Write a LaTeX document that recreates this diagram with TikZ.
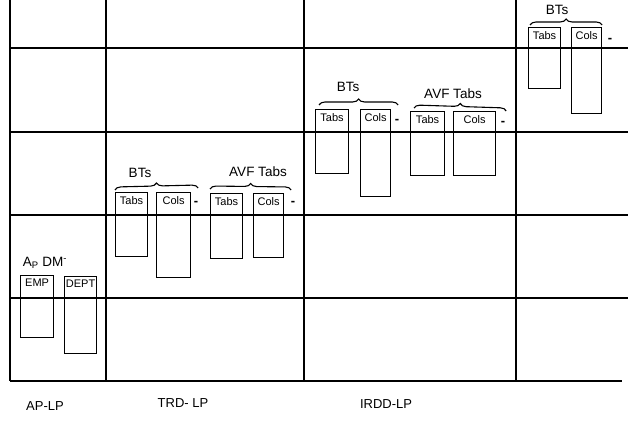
\documentclass[tikz,border=0pt]{standalone}
\usepackage{fontspec}
\setmainfont{Liberation Sans}
\usetikzlibrary{positioning, decorations.pathreplacing}

\begin{document}
\begin{tikzpicture}[
  x=1pt, y=-1pt,
  grid/.style  = {line width=1.6pt},
  tbl/.style   = {draw, line width=1.2pt, anchor=north west, inner sep=0pt,
                  minimum width=32pt},
  tname/.style = {anchor=north, inner sep=4pt, font=\fontsize{11}{13}\selectfont},
  brc/.style   = {decorate, decoration={brace, amplitude=6pt}, line width=1.1pt},
  head/.style  = {font=\fontsize{13.5}{15}\selectfont, inner sep=1pt},
  more/.style  = {font=\bfseries\fontsize{13}{14}\selectfont, inner sep=0pt},
  lp/.style    = {font=\fontsize{13}{15}\selectfont, inner sep=1pt}
]
\useasboundingbox (0,0) rectangle (628,427);

%% -- grid -------------------------------------------------------------------
\foreach \y in {48,132,215,298}
  \draw[grid] (10,\y) -- (628,\y);
\draw[grid] (10,381) -- (622,381);
\foreach \x in {10,106,304,516}
  \draw[grid] (\x,0) -- (\x,381);

%% -- AP-LP ------------------------------------------------------------------
\node[head] (apdm) at (45,263) {A\textsubscript{P} DM\textsuperscript{-}};
\node[tbl, minimum width=33pt, minimum height=62pt] (emp)  at (20,275) {};
\node[tname] (empL)  at (emp.north)  {EMP};
\node[tbl, minimum width=32pt, minimum height=77pt] (dept) at (64,276) {};
\node[tname, inner xsep=0pt] (deptL) at (dept.north) {DEPT};

%% -- TRD-LP -----------------------------------------------------------------
\node[tbl, minimum height=64pt] (trdTabs) at (115,192) {};
\node[tname] at (trdTabs.north) {Tabs};
\node[tbl, minimum width=34pt, minimum height=85pt] (trdCols) at (156,192) {};
\node[tname] at (trdCols.north) {Cols};
\node[more] (trdMore) at (196,203) {-};
\node[tbl, minimum height=65pt] (trdAvTabs) at (210,193) {};
\node[tname] at (trdAvTabs.north) {Tabs};
\node[tbl, minimum width=30pt, minimum height=64pt] (trdAvCols) at (253,193) {};
\node[tname] at (trdAvCols.north) {Cols};
\node[more] (trdAvMore) at (293,203) {-};

\draw[brc] ([yshift=2pt]trdTabs.north west) -- ([xshift=7pt,yshift=4pt]trdCols.north east);
\draw[brc] ([yshift=4pt]trdAvTabs.north west) -- ([xshift=7pt,yshift=3pt]trdAvCols.north east);
\node[head] (trdBT) at (140,173) {BTs};
\node[head] (trdAV) at (258,172) {AVF Tabs};

%% -- IRDD-LP ----------------------------------------------------------------
\node[tbl, minimum width=33pt, minimum height=64pt] (irTabs) at (315,109) {};
\node[tname] at (irTabs.north) {Tabs};
\node[tbl, minimum width=30pt, minimum height=87pt] (irCols) at (360,109) {};
\node[tname] at (irCols.north) {Cols};
\node[more] (irMore) at (397,121) {-};
\node[tbl, minimum width=34pt, minimum height=64pt] (irAvTabs) at (410,111) {};
\node[tname] at (irAvTabs.north) {Tabs};
\node[tbl, minimum width=42pt, minimum height=64pt] (irAvCols) at (453,111) {};
\node[tname] at (irAvCols.north) {Cols};
\node[more] (irAvMore) at (503,123) {-};

\draw[brc] ([xshift=4pt,yshift=4pt]irTabs.north west) -- ([xshift=7pt,yshift=4pt]irCols.north east);
\draw[brc] ([xshift=4pt,yshift=3pt]irAvTabs.north west) -- ([xshift=10pt,yshift=0pt]irAvCols.north east);
\node[head] (irBT) at (348,87) {BTs};
\node[head] (irAV) at (453,94) {AVF Tabs};

%% -- top right --------------------------------------------------------------
\node[tbl, minimum width=32pt, minimum height=61pt] (trTabs) at (528,27) {};
\node[tname] at (trTabs.north) {Tabs};
\node[tbl, minimum width=30pt, minimum height=86pt] (trCols) at (571,27) {};
\node[tname] at (trCols.north) {Cols};
\node[more] (trMore) at (610,40) {-};

\draw[brc] ([xshift=2pt,yshift=2pt]trTabs.north west) -- ([xshift=0pt,yshift=2pt]trCols.north east);
\node[head] (trBT) at (557,10) {BTs};

%% -- level labels -----------------------------------------------------------
\node[lp] (apLP)   at (45,406)  {AP-LP};
\node[lp] (trdLP)  at (183,403) {TRD- LP};
\node[lp] (irddLP) at (386,404) {IRDD-LP};

\end{tikzpicture}
\end{document}
